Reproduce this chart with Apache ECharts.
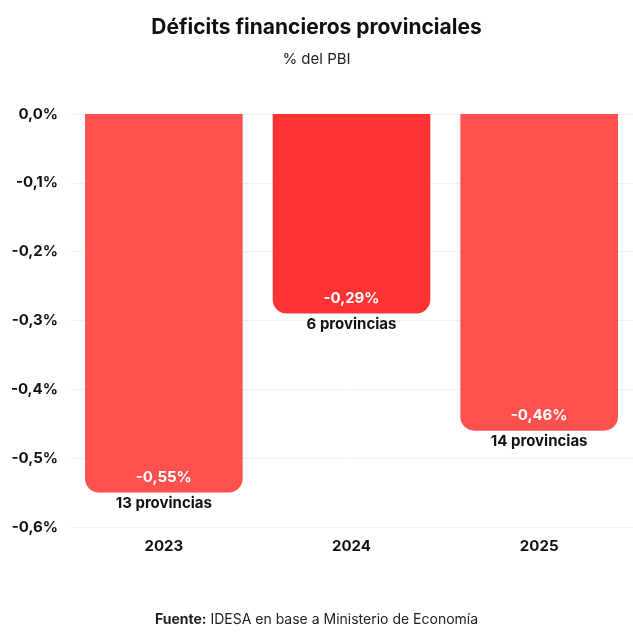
<!DOCTYPE html>
<html>
<head>
<meta charset="utf-8">
<script src="https://cdn.jsdelivr.net/npm/echarts@6/dist/echarts.min.js"></script>
<style>
	html, body { margin: 0; padding: 0; background: #fff; }
	#chart { width: 633px; height: 640px; }
</style>
</head>
<body>
<div id="chart"></div>
<script>
const years = [ '2023', '2024', '2025' ];
const deficits = [ -0.55, -0.29, -0.46 ];
const provinceCounts = [ 13, 6, 14 ];
const barColors = [ '#ff5050', '#ff3333', '#ff5050' ];
const fontFamily = 'Inter, "Noto Sans", sans-serif';

const fmt = ( v ) => v.toFixed( 2 ).replace( '.', ',' ) + '%';

const chart = echarts.init( document.getElementById( 'chart' ) );
chart.setOption( {
	textStyle: { fontFamily: fontFamily },
	title: [
		{
			text: 'Déficits financieros provinciales',
			left: 'center', top: 12,
			textStyle: { fontSize: 21, fontWeight: 'bold', color: '#111' }
		},
		{
			text: '% del PBI',
			left: 'center', top: 47,
			textStyle: { fontSize: 15, fontWeight: 'normal', color: '#222' }
		},
		{
			text: '{b|Fuente:} IDESA en base a Ministerio de Economía',
			left: 'center', top: 608,
			textStyle: {
				fontSize: 14, fontWeight: 'normal', color: '#222',
				rich: { b: { fontSize: 14, fontWeight: 'bold', color: '#222' } }
			}
		}
	],
	grid: { left: 70, right: 0, top: 114, bottom: 113 },
	xAxis: {
		type: 'category',
		data: years,
		position: 'bottom',
		axisLine: { show: false },
		axisTick: { show: false },
		axisLabel: { fontSize: 15, fontWeight: 'bold', color: '#111', margin: 12 }
	},
	yAxis: {
		type: 'value',
		min: -0.6, max: 0, interval: 0.1,
		axisLabel: {
			fontSize: 15, fontWeight: 'bold', color: '#111', margin: 12,
			formatter: ( v ) => v.toFixed( 1 ).replace( '.', ',' ) + '%'
		},
		splitLine: { lineStyle: { color: '#f0f0f0' } }
	},
	series: [ {
		type: 'bar',
		barWidth: '84%',
		data: deficits.map( ( v, i ) => ( {
			value: v,
			itemStyle: { color: barColors[ i ], borderRadius: [ 0, 0, 14, 14 ] }
		} ) ),
		label: {
			show: true,
			position: 'insideBottom',
			distance: 0,
			offset: [ 0, 24 ],
			formatter: ( p ) => '{v|' + fmt( p.value ) + '}\n{p|' + provinceCounts[ p.dataIndex ] + ' provincias}',
			rich: {
				v: { color: '#fff', fontSize: 15, fontWeight: 'bold', lineHeight: 26 },
				p: { color: '#111', fontSize: 15, fontWeight: 'bold', lineHeight: 26 }
			}
		}
	} ]
} );
</script>
</body>
</html>
